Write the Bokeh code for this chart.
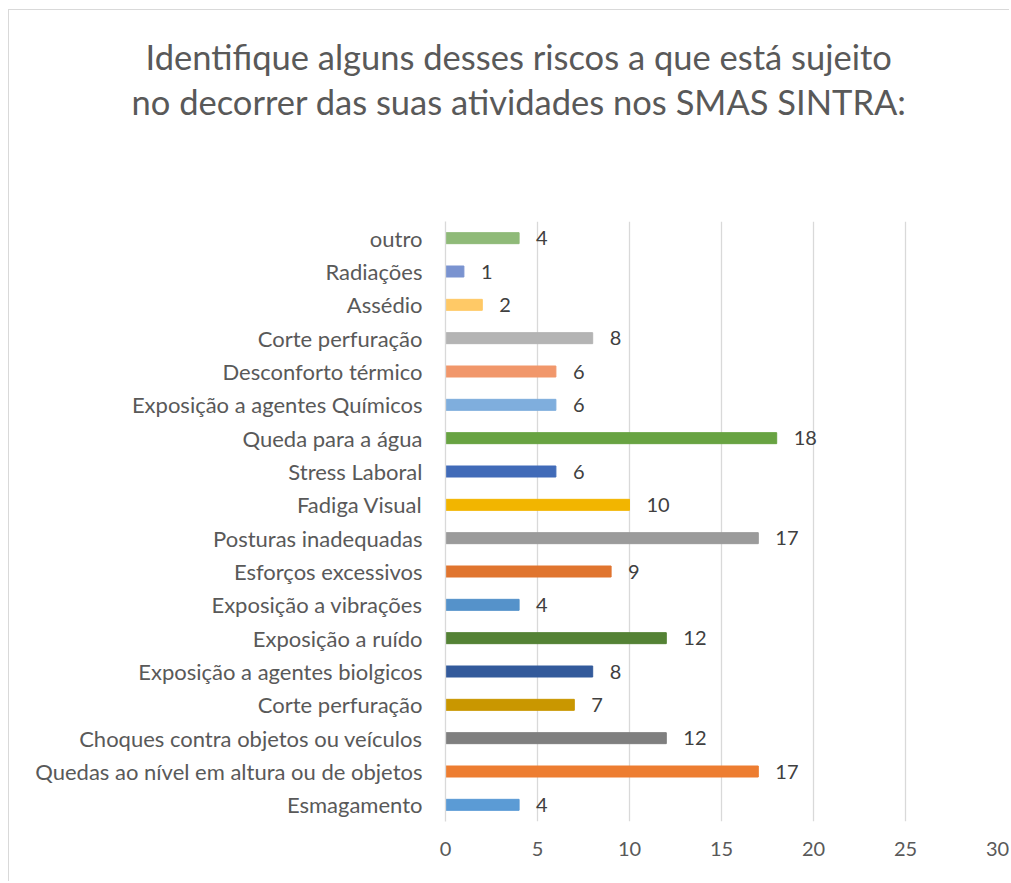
from bokeh.plotting import figure
from bokeh.models import ColumnDataSource, FixedTicker, Range1d, Title, LabelSet
from bokeh.core.properties import value
from bokeh.embed import file_html
from bokeh.resources import INLINE

title_lines = ["Identifique alguns desses riscos a que está sujeito",
               "no decorrer das suas atividades nos SMAS SINTRA:"]

categories = ["Esmagamento", "Quedas ao nível em altura ou de objetos",
              "Choques contra objetos ou veículos", "Corte perfuração",
              "Exposição a agentes biolgicos", "Exposição a ruído",
              "Exposição a vibrações", "Esforços excessivos", "Posturas inadequadas",
              "Fadiga Visual", "Stress Laboral", "Queda para a água",
              "Exposição a agentes Químicos", "Desconforto térmico",
              "Corte perfuração", "Assédio", "Radiações", "outro"]
values = [4, 17, 12, 7, 8, 12, 4, 9, 17, 10, 6, 18, 6, 6, 8, 2, 1, 4]
colors = ["#5B9BD5", "#ED7D31", "#7F7F7F", "#C99700", "#335A9B", "#548235",
          "#5592CA", "#E0752F", "#9B9B9B", "#F2B500", "#416BB8", "#68A342",
          "#7FAEDD", "#F1976B", "#B4B4B4", "#FFC966", "#7A93D0", "#8FBA78"]
x_ticks = [0, 5, 10, 15, 20, 25, 30]

FONT = "Lato"
TXT = "#595959"

idx = list(range(len(categories)))
src = ColumnDataSource(dict(y=idx, v=values, c=colors, t=[str(v) for v in values]))

p = figure(width=1001, height=872, output_backend="svg", toolbar_location=None,
           x_range=Range1d(0, 30), y_range=Range1d(-0.5, len(categories) - 0.5),
           min_border_left=436, min_border_right=13, min_border_top=211, min_border_bottom=61)
p.outline_line_color = None
p.styles = {"border-left": "1px solid #D9D9D9", "border-top": "1px solid #D9D9D9",
            "margin-left": "8px", "margin-top": "9px"}

# titles stacked above the frame: spacer first (nearest the frame), then line 2, then line 1
p.add_layout(Title(text=" ", text_font_size="1px", standoff=95), "above")
for line, off in zip(reversed(title_lines), [-314, -300]):
    p.add_layout(Title(text=line, align="left", offset=off, vertical_align="middle",
                       standoff=2, text_font=FONT, text_font_size="34.5px",
                       text_font_style="normal", text_color=TXT), "above")

p.hbar(y="y", left=0, right="v", height=0.33, color="c", source=src)

p.add_layout(LabelSet(x="v", y="y", text="t", source=src, x_offset=17,
                      text_baseline="middle", text_align="left",
                      text_font=value(FONT), text_font_size=value("20px"),
                      text_color="#404040"))

p.xgrid.ticker = FixedTicker(ticks=x_ticks)
p.xgrid.grid_line_color = "#D9D9D9"
p.xgrid.grid_line_width = 1.3
p.ygrid.grid_line_color = None

xa = p.xaxis[0]
xa.ticker = FixedTicker(ticks=x_ticks)
xa.axis_line_color = None
xa.major_tick_line_color = None
xa.minor_tick_line_color = None
xa.major_tick_out = 0
xa.major_tick_in = 0
xa.major_label_standoff = 20
xa.major_label_text_font = FONT
xa.major_label_text_font_size = "20px"
xa.major_label_text_color = TXT

ya = p.yaxis[0]
ya.ticker = FixedTicker(ticks=idx)
ya.major_label_overrides = {i: c for i, c in zip(idx, categories)}
ya.axis_line_color = "#D9D9D9"
ya.axis_line_width = 1.3
ya.major_tick_line_color = None
ya.minor_tick_line_color = None
ya.major_tick_out = 0
ya.major_tick_in = 0
ya.major_label_standoff = 23
ya.major_label_text_font = FONT
ya.major_label_text_font_size = "22px"
ya.major_label_text_color = TXT

open("out.html", "w").write(file_html(p, INLINE))
